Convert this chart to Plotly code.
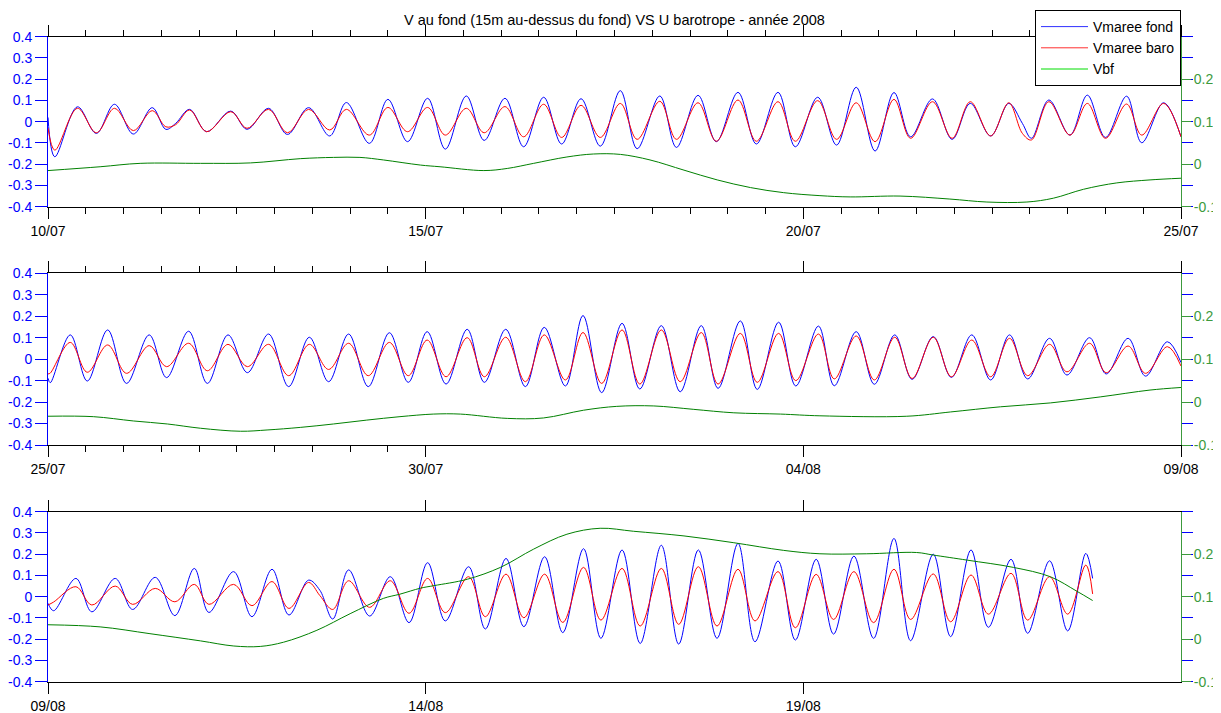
import pandas as pd
import plotly.graph_objects as go

TITLE = "V au fond (15m au-dessus du fond) VS U barotrope - année 2008"
NAMES = ["Vmaree fond", "Vmaree baro", "Vbf"]

panel_starts = ["2008-07-10", "2008-07-25", "2008-08-09"]
x_tick_days = [[0, 5, 10, 15], [0, 5, 10, 15], [0, 5, 10]]
x_tick_labels = [["10/07", "15/07", "20/07", "25/07"],
                 ["25/07", "30/07", "04/08", "09/08"],
                 ["09/08", "14/08", "19/08"]]
minor_tick_span = [15, 5, 0]   # days over which half-day minor ticks are drawn

left_tick_vals = [-0.4, -0.3, -0.2, -0.1, 0, 0.1, 0.2, 0.3, 0.4]
left_tick_text = ["-0.4", "-0.3", "-0.2", "-0.1", "0", "0.1", "0.2", "0.3", "0.4"]
right_tick_vals = [-0.1, 0, 0.1, 0.2]
right_tick_text = ["-0.1", "0", "0.1", "0.2"]

# ---- Panel 1 : 10/07 -> 25/07 (days since start, values at turning points)
p1_t = [0.0, 0.09, 0.39, 0.64, 0.88, 1.13, 1.38, 1.56, 1.69, 1.875, 2.10, 2.42, 2.635, 2.92,
        3.17, 3.45, 3.73, 3.95, 4.255, 4.50, 4.76, 5.026, 5.26, 5.538, 5.775, 6.05, 6.297,
        6.562, 6.80, 7.057, 7.312, 7.577, 7.80, 8.10, 8.32, 8.606, 8.848, 9.135, 9.378,
        9.665, 9.894, 10.19, 10.44, 10.70, 10.95, 11.20, 11.42, 11.71, 11.97, 12.21, 12.48,
        12.72, 12.90, 13.02, 13.25, 13.53, 13.76, 14.0, 14.28, 14.48, 14.77, 15.0]
p1_fond = [0.02, -0.165, 0.07, -0.055, 0.082, -0.058, 0.066, -0.036, -0.008, 0.058, -0.047,
           0.05, -0.036, 0.063, -0.06, 0.066, -0.067, 0.09, -0.102, 0.105, -0.094, 0.11,
           -0.129, 0.121, -0.088, 0.11, -0.118, 0.115, -0.105, 0.108, -0.115, 0.146, -0.127,
           0.121, -0.121, 0.124, -0.094, 0.138, -0.105, 0.138, -0.118, 0.115, -0.11, 0.162,
           -0.138, 0.137, -0.071, 0.107, -0.083, 0.086, -0.067, 0.086, -0.008, -0.078, 0.102,
           -0.063, 0.125, -0.074, 0.12, -0.099, 0.089, -0.071]
p1_baro = [-0.03, -0.134, 0.063, -0.052, 0.063, -0.042, 0.052, -0.024, -0.014, 0.055, -0.047,
           0.047, -0.031, 0.058, -0.052, 0.058, -0.039, 0.058, -0.063, 0.067, -0.047, 0.067,
           -0.063, 0.063, -0.052, 0.071, -0.071, 0.082, -0.074, 0.077, -0.074, 0.086, -0.083,
           0.096, -0.083, 0.089, -0.092, 0.102, -0.092, 0.094, -0.092, 0.099, -0.083, 0.089,
           -0.094, 0.105, -0.078, 0.094, -0.078, 0.094, -0.067, 0.089, -0.055, -0.086, 0.094,
           -0.063, 0.086, -0.078, 0.083, -0.063, 0.086, -0.071]
p1_bf_t = [0.0, 0.69, 1.22, 2.02, 2.68, 3.34, 3.78, 4.13, 4.44, 4.93, 5.19, 5.77, 6.08, 6.43,
           6.87, 7.22, 7.58, 7.97, 8.42, 8.86, 9.30, 9.74, 10.22, 10.62, 11.28, 11.94, 12.43,
           12.96, 13.31, 13.71, 14.15, 14.59, 15.0]
p1_bf = [-0.015, -0.006, 0.002, 0.002, 0.003, 0.013, 0.016, 0.016, 0.010, -0.002, -0.006,
         -0.015, -0.010, 0.002, 0.017, 0.024, 0.023, 0.010, -0.014, -0.037, -0.055, -0.067,
         -0.074, -0.077, -0.075, -0.082, -0.089, -0.089, -0.080, -0.059, -0.044, -0.037, -0.033]

# ---- Panel 2 : 25/07 -> 09/08
p2_t = [0.0, 0.03, 0.295, 0.52, 0.79, 1.04, 1.34, 1.57, 1.862, 2.11, 2.383, 2.64, 2.921,
        3.186, 3.46, 3.715, 3.98, 4.24, 4.52, 4.77, 5.02, 5.27, 5.55, 5.777, 6.06, 6.32,
        6.57, 6.85, 7.083, 7.33, 7.6, 7.835, 8.12, 8.37, 8.649, 8.871, 9.166, 9.39, 9.673,
        9.9, 10.2, 10.41, 10.70, 10.94, 11.21, 11.44, 11.72, 11.96, 12.23, 12.48, 12.73,
        12.97, 13.26, 13.49, 13.79, 14.01, 14.30, 14.53, 14.82, 15.0]
p2_fond = [-0.089, -0.11, 0.113, -0.102, 0.136, -0.113, 0.113, -0.086, 0.13, -0.113, 0.113,
           -0.063, 0.117, -0.128, 0.102, -0.105, 0.117, -0.128, 0.123, -0.108, 0.128, -0.116,
           0.139, -0.108, 0.139, -0.128, 0.148, -0.125, 0.203, -0.156, 0.167, -0.139, 0.156,
           -0.152, 0.156, -0.136, 0.178, -0.141, 0.172, -0.125, 0.154, -0.124, 0.128, -0.117,
           0.113, -0.094, 0.105, -0.085, 0.113, -0.097, 0.113, -0.092, 0.097, -0.074, 0.1,
           -0.069, 0.097, -0.079, 0.081, -0.016]
p2_baro = [-0.069, -0.065, 0.078, -0.061, 0.066, -0.066, 0.063, -0.035, 0.074, -0.054, 0.069,
           -0.035, 0.069, -0.077, 0.069, -0.048, 0.074, -0.077, 0.078, -0.077, 0.089, -0.082,
           0.1, -0.082, 0.102, -0.105, 0.113, -0.097, 0.124, -0.113, 0.136, -0.116, 0.136,
           -0.105, 0.124, -0.116, 0.12, -0.108, 0.12, -0.1, 0.117, -0.092, 0.108, -0.097,
           0.102, -0.09, 0.102, -0.082, 0.089, -0.082, 0.097, -0.077, 0.069, -0.059, 0.074,
           -0.063, 0.061, -0.066, 0.058, -0.032]
p2_bf_t = [0.0, 0.60, 1.13, 1.58, 2.02, 2.55, 2.90, 3.34, 3.78, 4.22, 4.66, 5.1, 5.46, 6.08,
           6.56, 7.09, 7.53, 8.02, 8.55, 9.08, 9.70, 10.22, 11.37, 11.95, 12.61, 13.27, 13.93,
           14.59, 15.0]
p2_bf = [-0.033, -0.034, -0.044, -0.051, -0.061, -0.068, -0.065, -0.059, -0.051, -0.042,
         -0.034, -0.028, -0.028, -0.038, -0.037, -0.019, -0.010, -0.009, -0.017, -0.025,
         -0.028, -0.032, -0.033, -0.023, -0.011, -0.002, 0.012, 0.028, 0.034]

# ---- Panel 3 : 09/08 -> 24/08
p3_t = [0.0, 0.075, 0.37, 0.58, 0.89, 1.12, 1.42, 1.68, 1.937, 2.13, 2.457, 2.70, 2.966,
        3.19, 3.45, 3.60, 3.77, 3.98, 4.258, 4.532, 4.78, 5.026, 5.26, 5.569, 5.79, 6.064,
        6.30, 6.575, 6.815, 7.09, 7.32, 7.6, 7.84, 8.12, 8.35, 8.61, 8.857, 9.135, 9.36,
        9.665, 9.894, 10.17, 10.40, 10.67, 10.93, 11.20, 11.42, 11.72, 11.95, 12.22, 12.45,
        12.75, 12.97, 13.26, 13.50, 13.74, 13.83]
p3_fond = [-0.031, -0.066, 0.086, -0.071, 0.086, -0.06, 0.091, -0.089, 0.133, -0.074, 0.118,
           -0.094, 0.129, -0.086, 0.078, 0.03, -0.105, 0.126, -0.091, 0.094, -0.122, 0.16,
           -0.114, 0.141, -0.152, 0.18, -0.141, 0.188, -0.169, 0.226, -0.196, 0.22, -0.22,
           0.242, -0.223, 0.22, -0.196, 0.251, -0.212, 0.168, -0.204, 0.176, -0.176, 0.191,
           -0.196, 0.274, -0.207, 0.2, -0.188, 0.22, -0.144, 0.176, -0.172, 0.169, -0.161,
           0.204, 0.086]
p3_baro = [-0.039, -0.025, 0.047, -0.039, 0.05, -0.036, 0.039, -0.024, 0.058, -0.036, 0.058,
           -0.042, 0.071, -0.055, 0.067, 0.005, -0.06, 0.075, -0.05, 0.075, -0.078, 0.086,
           -0.075, 0.094, -0.094, 0.106, -0.099, 0.106, -0.121, 0.138, -0.11, 0.133, -0.138,
           0.133, -0.13, 0.141, -0.138, 0.129, -0.114, 0.118, -0.146, 0.105, -0.107, 0.118,
           -0.122, 0.129, -0.107, 0.107, -0.118, 0.102, -0.082, 0.11, -0.11, 0.094, -0.082,
           0.149, 0.013]
p3_bf_t = [0.0, 0.69, 1.35, 2.02, 2.46, 2.81, 3.12, 3.56, 4.0, 4.44, 4.66, 4.93, 5.11, 5.55,
           5.99, 6.43, 6.87, 7.31, 7.75, 8.42, 9.08, 9.74, 10.22, 10.84, 11.50, 11.72, 12.17,
           12.78, 13.27, 13.62, 13.83]
p3_bf = [0.034, 0.029, 0.013, -0.004, -0.016, -0.017, -0.007, 0.021, 0.06, 0.096, 0.106,
         0.12, 0.126, 0.141, 0.169, 0.212, 0.247, 0.261, 0.254, 0.243, 0.227, 0.209, 0.201,
         0.201, 0.204, 0.198, 0.186, 0.169, 0.147, 0.113, 0.091]

panels = [
    (p1_t, p1_fond, p1_baro, p1_bf_t, p1_bf),
    (p2_t, p2_fond, p2_baro, p2_bf_t, p2_bf),
    (p3_t, p3_fond, p3_baro, p3_bf_t, p3_bf),
]

BLUE = "#0000ff"
RED = "#ff0000"
GREEN = "#008000"
GREEN_AX = "#3c9a3c"
LEGEND_COLORS = ["#3030ff", "#ff3030", "#00dd00"]
FONT = "Liberation Sans, Arial, sans-serif"

# page has an 8px body margin, so the figure is offset by 8px
OFF = 8
W, H = 1221 - OFF, 713 - OFF
# panel pixel extents in the page (top, bottom)
panel_px = [(36.7, 206.7), (273.3, 445.0), (511.7, 681.7)]

def when(start, days):
    return pd.Timestamp(start) + pd.to_timedelta(days, unit="D")

fig = go.Figure()

layout = dict(
    width=W, height=H,
    margin=dict(l=48 - OFF, r=1221 - 1181, t=0, b=0, autoexpand=False),
    paper_bgcolor="white", plot_bgcolor="white",
    font=dict(family=FONT, size=14, color="black"),
    showlegend=True,
    title=dict(text=TITLE, x=0.5, xref="paper", xanchor="center",
               y=1 - (20 - OFF) / H, yref="container", yanchor="middle",
               font=dict(family=FONT, size=14.5, color="black")),
    legend=dict(x=1, xanchor="right", y=1 - (10 - OFF) / H, yanchor="top",
                bgcolor="white", bordercolor="black", borderwidth=1,
                font=dict(family=FONT, size=14, color="black"),
                itemwidth=47, tracegroupgap=0),
)

for i, (start, (t, fond, baro, bf_t, bf)) in enumerate(zip(panel_starts, panels)):
    xid = "x" if i == 0 else f"x{i + 1}"
    yl = 3 * i + 1
    yb = 3 * i + 2
    yg = 3 * i + 3
    ylid = "y" if yl == 1 else f"y{yl}"
    ybid = f"y{yb}"
    ygid = f"y{yg}"
    top, bot = panel_px[i]
    dom = [(H - (bot - OFF)) / H, (H - (top - OFF)) / H]

    x_main = when(start, pd.Series(t))
    fig.add_trace(go.Scatter(x=x_main, y=fond, mode="lines", name=NAMES[0],
                             line=dict(color=BLUE, width=1, shape="spline", smoothing=1.0),
                             xaxis=xid, yaxis=ylid, showlegend=False, hoverinfo="skip"))
    fig.add_trace(go.Scatter(x=x_main, y=baro, mode="lines", name=NAMES[1],
                             line=dict(color=RED, width=1, shape="spline", smoothing=1.0),
                             xaxis=xid, yaxis=ylid, showlegend=False, hoverinfo="skip"))
    fig.add_trace(go.Scatter(x=[when(start, 0)], y=[None], mode="lines", showlegend=False,
                             xaxis=xid, yaxis=ybid, hoverinfo="skip"))
    fig.add_trace(go.Scatter(x=when(start, pd.Series(bf_t)), y=bf, mode="lines", name=NAMES[2],
                             line=dict(color=GREEN, width=1, shape="spline", smoothing=1.0),
                             xaxis=xid, yaxis=ygid, showlegend=False, hoverinfo="skip"))

    x0 = when(start, 0)
    x1 = when(start, 15)
    major_vals = [when(start, d) for d in x_tick_days[i]]
    minor_vals = [when(start, k / 2) for k in range(1, 2 * minor_tick_span[i])
                  if (k / 2) % 5 != 0]
    xax = dict(
        domain=[0, 1], anchor=ylid, type="date", range=[x0, x1],
        showline=True, linecolor="black", linewidth=1, mirror="ticks",
        ticks="outside", ticklen=11, tickwidth=1, tickcolor="black",
        tickmode="array", tickvals=major_vals, ticktext=x_tick_labels[i],
        tickfont=dict(family=FONT, size=14, color="black"),
        showgrid=False, zeroline=False, automargin=False, fixedrange=True,
    )
    if minor_vals:
        xax["minor"] = dict(tickmode="array", tickvals=minor_vals, ticks="outside",
                            ticklen=6, tickwidth=1, tickcolor="black", showgrid=False)
    layout["xaxis" if i == 0 else f"xaxis{i + 1}"] = xax

    layout["yaxis" if yl == 1 else f"yaxis{yl}"] = dict(
        domain=dom, anchor=xid, range=[-0.4, 0.4], side="left",
        showline=True, linecolor=BLUE, linewidth=1,
        ticks="outside", ticklen=12, tickwidth=1, tickcolor=BLUE,
        tickmode="array", tickvals=left_tick_vals, ticktext=left_tick_text,
        tickfont=dict(family=FONT, size=14, color=BLUE), ticklabelstandoff=0,
        showgrid=False, zeroline=False, automargin=False, fixedrange=True,
    )
    layout[f"yaxis{yb}"] = dict(
        anchor=xid, overlaying=ylid, range=[-0.4, 0.4], side="right",
        showline=False, ticks="outside", ticklen=11, tickwidth=1, tickcolor=BLUE,
        tickmode="array", tickvals=left_tick_vals, showticklabels=False,
        showgrid=False, zeroline=False, automargin=False, fixedrange=True,
    )
    layout[f"yaxis{yg}"] = dict(
        anchor=xid, overlaying=ylid, range=[-0.1, 0.3], side="right",
        showline=True, linecolor=GREEN_AX, linewidth=1,
        ticks="outside", ticklen=9, tickwidth=1, tickcolor=GREEN_AX,
        tickmode="array", tickvals=right_tick_vals, ticktext=right_tick_text,
        tickfont=dict(family=FONT, size=14, color=GREEN_AX),
        showgrid=False, zeroline=False, automargin=False, fixedrange=True,
    )

# legend entries
for name, col in zip(NAMES, LEGEND_COLORS):
    fig.add_trace(go.Scatter(x=[None], y=[None], mode="lines", name=name,
                             line=dict(color=col, width=1), xaxis="x", yaxis="y",
                             showlegend=True))

fig.update_layout(**layout)
fig.write_html("out.html")
